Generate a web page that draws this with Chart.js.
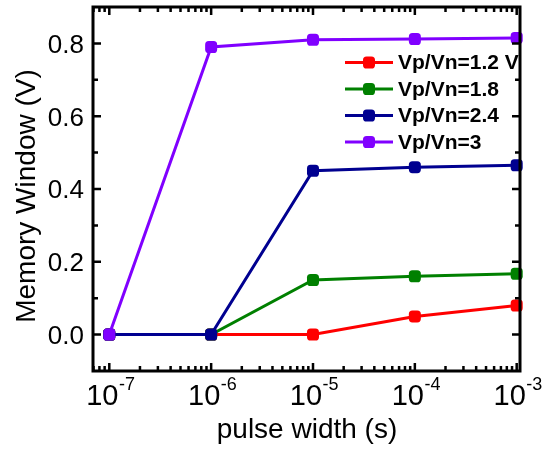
<!DOCTYPE html>
<html>
<head>
<meta charset="utf-8">
<script src="https://cdn.jsdelivr.net/npm/chart.js@4"></script>
<style>
html,body{margin:0;padding:0;background:#fff;}
#wrap{width:552px;height:452px;}
</style>
</head>
<body>
<div id="wrap"><canvas id="c" width="552" height="452"></canvas></div>
<script>
// ---- data ----
const pulseWidth = [1e-7, 1e-6, 1e-5, 1e-4, 1e-3];
const seriesNames = ['Vp/Vn=1.2 V', 'Vp/Vn=1.8', 'Vp/Vn=2.4', 'Vp/Vn=3'];
const mw12 = [0, 0, 0, 0.05, 0.08];
const mw18 = [0, 0, 0.15, 0.16, 0.167];
const mw24 = [0, 0, 0.45, 0.46, 0.465];
const mw30 = [0, 0.79, 0.81, 0.812, 0.815];
const seriesColors = ['#ff0000', '#008000', '#000090', '#8000ff'];
const yTickValues = [0, 0.2, 0.4, 0.6, 0.8];
const yTickLabels = ['0.0', '0.2', '0.4', '0.6', '0.8'];
const yMinorValues = [0.1, 0.3, 0.5, 0.7];
const xTickValues = [1e-7, 1e-6, 1e-5, 1e-4, 1e-3];
const xTickExponents = ['-7', '-6', '-5', '-4', '-3'];
const xTitle = 'pulse width (s)';
const yTitle = 'Memory Window (V)';

const FONT = '"Liberation Sans", Arial, sans-serif';
const allSeries = [mw12, mw18, mw24, mw30];

const datasets = allSeries.map((s, i) => ({
  label: seriesNames[i],
  data: pulseWidth.map((x, j) => ({x: x, y: s[j]})),
  borderColor: seriesColors[i],
  backgroundColor: seriesColors[i],
  pointBackgroundColor: seriesColors[i],
  pointBorderColor: seriesColors[i],
  pointStyle: 'rectRounded',
  pointRadius: 7,
  pointBorderWidth: 0,
  borderWidth: 3,
  tension: 0,
  clip: false,
  order: allSeries.length - i
}));

function drawMarker(ctx, x, y, color) {
  ctx.save();
  ctx.fillStyle = color;
  ctx.strokeStyle = color;
  ctx.lineWidth = 0;
  if (Chart.helpers && Chart.helpers.drawPoint) {
    Chart.helpers.drawPoint(ctx, {pointStyle: 'rectRounded', radius: 7, rotation: 0, borderWidth: 0}, x, y);
  } else {
    ctx.fillRect(x - 6, y - 6, 12, 12);
  }
  ctx.restore();
}

const framePlugin = {
  id: 'frame',
  afterDraw(chart) {
    const ctx = chart.ctx;
    const a = chart.chartArea;
    const xs = chart.scales.x, ys = chart.scales.y;
    ctx.save();
    ctx.strokeStyle = '#000';
    ctx.fillStyle = '#000';
    // ticks
    ctx.lineWidth = 2.5;
    const majLen = 8, minLen = 5;
    function hTick(v, len) {
      const y = ys.getPixelForValue(v);
      ctx.beginPath();
      ctx.moveTo(a.left, y); ctx.lineTo(a.left + len, y);
      ctx.moveTo(a.right, y); ctx.lineTo(a.right - len, y);
      ctx.stroke();
    }
    yTickValues.forEach(v => hTick(v, majLen));
    yMinorValues.forEach(v => hTick(v, minLen));
    function vTick(v, len) {
      const x = xs.getPixelForValue(v);
      if (x < a.left - 0.5 || x > a.right + 0.5) return;
      ctx.beginPath();
      ctx.moveTo(x, a.bottom); ctx.lineTo(x, a.bottom - len);
      ctx.moveTo(x, a.top); ctx.lineTo(x, a.top + len);
      ctx.stroke();
    }
    xTickValues.forEach(v => vTick(v, majLen));
    for (let e = -8; e <= -3; e++) {
      for (let k = 2; k <= 9; k++) vTick(k * Math.pow(10, e), minLen);
    }
    // frame
    ctx.lineWidth = 3;
    ctx.strokeRect(a.left, a.top, a.right - a.left, a.bottom - a.top);

    // y tick labels
    ctx.font = '26px ' + FONT;
    ctx.textAlign = 'right';
    ctx.textBaseline = 'alphabetic';
    yTickValues.forEach((v, i) => {
      ctx.fillText(yTickLabels[i], a.left - 9, ys.getPixelForValue(v) + 9.3);
    });
    // x tick labels with superscript
    xTickValues.forEach((v, i) => {
      const x = xs.getPixelForValue(v);
      ctx.font = '29px ' + FONT;
      const wBase = ctx.measureText('10').width;
      ctx.font = '18px ' + FONT;
      const wExp = ctx.measureText(xTickExponents[i]).width;
      const start = x - (wBase + wExp) / 2 + 1;
      ctx.textAlign = 'left';
      ctx.font = '29px ' + FONT;
      ctx.fillText('10', start, 405);
      ctx.font = '18px ' + FONT;
      ctx.fillText(xTickExponents[i], start + wBase + 0.5, 390);
    });
    // axis titles
    ctx.font = '28px ' + FONT;
    ctx.textAlign = 'center';
    ctx.fillText(xTitle, (a.left + a.right) / 2 + 0.5, 438);
    ctx.save();
    ctx.translate(35, 196);
    ctx.rotate(-Math.PI / 2);
    ctx.fillText(yTitle, 0, 0);
    ctx.restore();

    // legend
    ctx.font = 'bold 21px ' + FONT;
    ctx.textAlign = 'left';
    ctx.textBaseline = 'middle';
    chart.data.datasets.forEach((ds, i) => {
      const y = 62.5 + i * 26.5;
      ctx.strokeStyle = ds.borderColor;
      ctx.lineWidth = 3;
      ctx.beginPath();
      ctx.moveTo(345, y); ctx.lineTo(393, y);
      ctx.stroke();
      drawMarker(ctx, 369, y, ds.borderColor);
      ctx.fillStyle = '#000';
      ctx.fillText(ds.label, 398, y + 1);
    });
    ctx.restore();
  }
};

new Chart(document.getElementById('c'), {
  type: 'line',
  data: {datasets: datasets},
  options: {
    responsive: false,
    animation: false,
    devicePixelRatio: 1,
    layout: {padding: {left: 93, right: 32, top: 6, bottom: 81}},
    plugins: {legend: {display: false}, tooltip: {enabled: false}},
    scales: {
      x: {type: 'logarithmic', display: false, min: 6.918e-8, max: 1.0775e-3},
      y: {type: 'linear', display: false, min: -0.1, max: 0.9}
    }
  },
  plugins: [framePlugin]
});
</script>
</body>
</html>
